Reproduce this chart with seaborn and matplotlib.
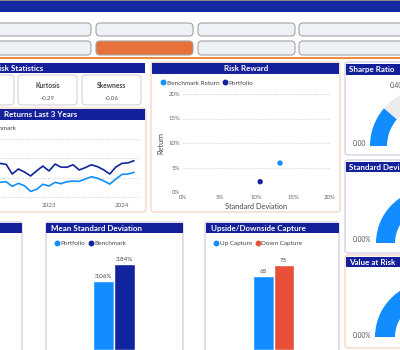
import matplotlib
matplotlib.use("Agg")
import matplotlib.pyplot as plt
import matplotlib.dates as mdates
from matplotlib.lines import Line2D
from matplotlib.patches import FancyBboxPatch, Rectangle, Wedge
from matplotlib.ticker import PercentFormatter
import pandas as pd
import seaborn as sns

# ---------------- data ----------------
months = pd.date_range("2022-05-01", "2024-03-01", freq="MS")
portfolio_returns = [7.6, 7.9, 5.5, 7.1, 5.8, 2.9, 4.0, 6.6, 5.7, 7.6, 6.9, 7.9,
                     8.3, 8.1, 9.3, 10.5, 9.7, 8.4, 6.7, 9.3, 11.7, 11.9, 12.8]
benchmark_returns = [17.4, 16.9, 11.9, 14.5, 12.9, 10.9, 13.6, 16.0, 13.5, 17.1, 15.5, 15.4,
                     16.7, 14.0, 15.2, 16.7, 15.7, 14.1, 11.9, 15.5, 17.4, 17.7, 18.8]

rr_series = ["Benchmark Return", "Portfolio"]
rr_std = [0.132, 0.105]
rr_return = [0.059, 0.021]

sd_series = ["Portfolio", "Benchmark"]
sd_values = [3.06, 3.84]

cap_series = ["Up Capture", "Down Capture"]
cap_values = [65, 75]

stat_names = ["Kurtosis", "Skewness"]
stat_values = [-0.29, -0.06]

gauge_names = ["Sharpe Ratio", "Standard Deviation", "Value at Risk"]
gauge_values = [0.09, 0.027, 0.020]
gauge_max = [0.40, 0.045, 0.033]
gauge_min_labels = ["0.00", "0.00%", "0.00%"]

# ---------------- style ----------------
LIGHT = "#118DFF"
DARK = "#12239E"
RED = "#E8503A"
NAVY = "#14209A"
ORANGE = "#E8703A"
GRAY_TXT = "#666666"

sns.set_theme(style="white")
plt.rcParams["font.family"] = ["Lato", "DejaVu Sans"]

W, H = 400, 350
fig = plt.figure(figsize=(4, 3.5), dpi=100)
fig.patch.set_facecolor("white")

bg = fig.add_axes([0, 0, 1, 1])
bg.set_xlim(0, W)
bg.set_ylim(H, 0)
bg.axis("off")


def px_axes(x0, y0, x1, y1):
    ax = fig.add_axes([x0 / W, 1 - y1 / H, (x1 - x0) / W, (y1 - y0) / H])
    ax.set_facecolor("none")
    for s in ax.spines.values():
        s.set_visible(False)
    return ax


def box(x0, y0, x1, y1, face="white", edge="#C9C7DD", lw=0.8, r=3, z=1):
    bg.add_patch(FancyBboxPatch((x0, y0), x1 - x0, y1 - y0,
                                boxstyle=f"round,pad=0,rounding_size={r}",
                                fc=face, ec=edge, lw=lw, zorder=z))


def header(x0, y0, x1, y1, text, tx, ha="left"):
    bg.add_patch(Rectangle((x0, y0), x1 - x0, y1 - y0, fc=NAVY, ec="none", zorder=3))
    bg.text(tx, (y0 + y1) / 2 + 0.3, text, color="white", fontsize=5.8,
            fontweight="bold", ha=ha, va="center", zorder=4)


def dot_legend(ax, labels, colors, anchor):
    handles = [Line2D([], [], marker="o", ls="none", color=c, markersize=3.2)
               for c in colors]
    ax.legend(handles, labels, loc="center left", bbox_to_anchor=anchor,
              ncol=len(labels), frameon=False, fontsize=4.6, handletextpad=0.0,
              columnspacing=0.4, borderpad=0, handlelength=1.0,
              labelcolor="#444444")


# ---------------- top bar & slicers ----------------
bg.add_patch(Rectangle((0, 0), W, 1.2, fc="#8A8A8A", ec="none"))
bg.add_patch(Rectangle((0, 1.2), W, 11, fc="#1428A0", ec="none"))

slicer_x = [(-10, 91), (96, 193), (198, 295), (299, 410)]
for i, (x0, x1) in enumerate(slicer_x):
    box(x0, 23, x1, 36, face="#EEF1F5", edge="#A3A3A3", lw=0.8, r=4)
    box(x0, 41, x1, 55, face=ORANGE if i == 1 else "#EEF1F5",
        edge="#A3A3A3", lw=0.8, r=4)
bg.add_patch(Rectangle((0, 56.8), W, 1.8, fc="#F08A3C", ec="none"))

# ---------------- risk statistics ----------------
header(-10, 63, 145, 73, "Risk Statistics", 43, ha="right")
for x0, x1 in [(-50, 14), (18, 77), (82, 141)]:
    box(x0, 75, x1, 105, edge="#CFCFCF", lw=0.7, r=4)
for (x0, x1), name, val in zip([(18, 77), (82, 141)], stat_names, stat_values):
    cx = (x0 + x1) / 2
    bg.text(cx, 86, name, fontsize=4.8, color="#444444", fontweight="bold",
            ha="center", va="center")
    bg.text(cx, 98, f"{val:.2f}", fontsize=4.3, color="#555555",
            ha="center", va="center")

# ---------------- returns last 3 years ----------------
box(-10, 108, 146, 212, edge="#F5CBB8")
header(-10, 109, 145, 120, "Returns Last 3 Years", 77.5, ha="right")
bg.text(16, 129, "Benchmark", fontsize=4.6, color="#444444", ha="right", va="center")

ax = px_axes(0, 130, 140, 200)
ret_df = pd.DataFrame({
    "month": list(months) * 2,
    "value": portfolio_returns + benchmark_returns,
    "series": ["Portfolio"] * len(months) + ["Benchmark"] * len(months),
})
sns.lineplot(data=ret_df, x="month", y="value", hue="series",
             palette={"Portfolio": LIGHT, "Benchmark": DARK},
             linewidth=1.2, legend=False, ax=ax)
d0 = mdates.date2num(pd.Timestamp("2023-01-01"))
ax.set_xlim(d0 - 245, d0 + 455)
ax.set_ylim(-1.55, 34.7)
ax.set_yticks([0, 10, 20, 30])
ax.set_yticklabels([])
ax.xaxis.set_major_locator(mdates.YearLocator())
ax.xaxis.set_major_formatter(mdates.DateFormatter("%Y"))
ax.tick_params(axis="both", length=0, labelsize=4.5, labelcolor=GRAY_TXT, pad=2)
ax.grid(axis="y", color="#BDBDBD", linestyle=(0, (1, 2)), linewidth=0.6)
ax.grid(axis="x", visible=False)
ax.set_xlabel("")
ax.set_ylabel("")

# ---------------- risk reward ----------------
box(151, 62, 340, 212, edge="#F5CBB8")
header(152, 63, 339, 74, "Risk Reward", 246, ha="center")
ax = px_axes(183, 94, 330, 192)
rr_df = pd.DataFrame({"std": rr_std, "ret": rr_return, "series": rr_series})
sns.scatterplot(data=rr_df, x="std", y="ret", hue="series",
                palette=[LIGHT, DARK], s=15, edgecolor="none", legend=False,
                ax=ax, clip_on=False)
ax.set_xlim(0, 0.2)
ax.set_ylim(0, 0.2)
ax.set_xticks([0, 0.05, 0.1, 0.15, 0.2])
ax.set_yticks([0, 0.05, 0.1, 0.15, 0.2])
ax.xaxis.set_major_formatter(PercentFormatter(1, decimals=0))
ax.yaxis.set_major_formatter(PercentFormatter(1, decimals=0))
ax.tick_params(axis="both", length=0, labelsize=4.3, labelcolor=GRAY_TXT, pad=2)
ax.grid(axis="y", color="#BDBDBD", linestyle=(0, (1, 2)), linewidth=0.6)
ax.grid(axis="x", visible=False)
ax.set_xlabel("Standard Deviation", fontsize=5.3, color="#444444", labelpad=2)
ax.set_ylabel("Return", fontsize=5.3, color="#444444", labelpad=3)
dot_legend(ax, rr_series, [LIGHT, DARK], ((157 - 183) / 147, 1 + (94 - 83) / 98))

# ---------------- gauges ----------------
gauge_boxes = [(62, 155, "#C9C7DD"), (160, 253, "#C9C7DD"), (255, 348, "#F5CBB8")]
gauge_headers = [(64, 75), (162, 172), (257, 267)]
gauge_geom = [(428, 146, 58, 41), (430, 243, 54, 35), (430, 337, 55, 35)]
gauge_lbl_y = [143, 240, 336]
for i, name in enumerate(gauge_names):
    y0, y1, ec = gauge_boxes[i]
    box(345, y0, 410, y1, edge=ec)
    hy0, hy1 = gauge_headers[i]
    header(346, hy0, 410, hy1, name, 349)
    cx, cy, ro, ri = gauge_geom[i]
    ang = 180 + 180 * gauge_values[i] / gauge_max[i]
    bg.add_patch(Wedge((cx, cy), ro, ang, 360, width=ro - ri, fc="#EBEBEB", ec="none", zorder=2))
    bg.add_patch(Wedge((cx, cy), ro, 180, ang, width=ro - ri, fc=LIGHT, ec="none", zorder=2))
    bg.text(353, gauge_lbl_y[i], gauge_min_labels[i], fontsize=4.8, color="#555555",
            ha="left", va="center", zorder=3)
bg.text(390, 86, f"{gauge_max[0]:.2f}", fontsize=4.8, color="#555555",
        ha="left", va="center", zorder=3)

# ---------------- bottom panels ----------------
box(-10, 222, 22, 360)
header(-10, 223, 22, 233, "", 0)

box(46, 222, 183, 360)
header(46, 223, 183, 233, "Mean Standard Deviation", 51)
ax = px_axes(54, 240, 174, 350)
sd_df = pd.DataFrame({"group": ["g"] * 2, "series": sd_series, "value": sd_values})
sns.barplot(data=sd_df, x="group", y="value", hue="series",
            palette=[LIGHT, DARK], saturation=1, width=0.8, legend=False, ax=ax)
for cont, v in zip(ax.containers, sd_values):
    ax.bar_label(cont, labels=[f"{v:.2f}%"], fontsize=4.5, color="#444444", padding=1.5)
ax.set_xlim(-60 / 52.5, 60 / 52.5)
ax.set_ylim(0, 110 / 22.5)
ax.set_xticks([])
ax.set_yticks([])
ax.set_xlabel("")
ax.set_ylabel("")
dot_legend(ax, sd_series, [LIGHT, DARK], ((51 - 54) / 120, 1 - (243 - 240) / 110))

box(205, 222, 339, 360)
header(206, 223, 339, 233, "Upside/Downside Capture", 211)
ax = px_axes(213.5, 240, 333.5, 350)
cap_df = pd.DataFrame({"group": ["g"] * 2, "series": cap_series, "value": cap_values})
sns.barplot(data=cap_df, x="group", y="value", hue="series",
            palette=[LIGHT, RED], saturation=1, width=0.8, legend=False, ax=ax)
for cont, v in zip(ax.containers, cap_values):
    ax.bar_label(cont, labels=[f"{v}"], fontsize=4.5, color="#444444", padding=1.5)
ax.set_xlim(-60 / 51.25, 60 / 51.25)
ax.set_ylim(0, 110 / 1.138)
ax.set_xticks([])
ax.set_yticks([])
ax.set_xlabel("")
ax.set_ylabel("")
dot_legend(ax, cap_series, [LIGHT, RED], ((210 - 213.5) / 120, 1 - (243 - 240) / 110))

fig.savefig("out.png", dpi=100)
plt.close(fig)
